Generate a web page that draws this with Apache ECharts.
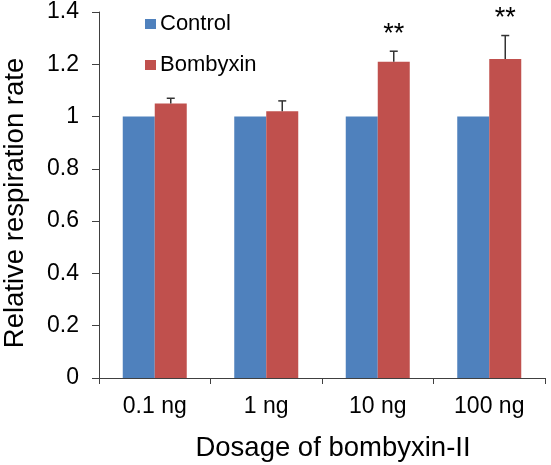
<!DOCTYPE html>
<html>
<head>
<meta charset="utf-8">
<script src="https://cdn.jsdelivr.net/npm/echarts@6/dist/echarts.min.js"></script>
<style>html,body{margin:0;padding:0;background:#fff}#c{width:551px;height:465px}</style>
</head>
<body>
<div id="c"></div>
<script>
var categories = ['0.1 ng', '1 ng', '10 ng', '100 ng'];
var controlValues = [1, 1, 1, 1];
var bombyxinValues = [1.05, 1.02, 1.21, 1.22];
var bombyxinErrors = [0.02, 0.04, 0.04, 0.09];
var significance = ['', '', '**', '**'];
var yTicks = [0, 0.2, 0.4, 0.6, 0.8, 1, 1.2, 1.4];

var FONT = '"Liberation Sans", Arial, sans-serif';
var BAR_W = 32;

var errData = categories.map(function (c, i) {
  return [i, bombyxinValues[i], bombyxinErrors[i], significance[i]];
});

var chart = echarts.init(document.getElementById('c'), null, {renderer: 'canvas'});
chart.setOption({
  animation: false,
  backgroundColor: '#fff',
  textStyle: {fontFamily: FONT},
  grid: {left: 99, right: 6, top: 12, bottom: 87, containLabel: false, outerBoundsMode: 'none'},
  legend: {
    data: ['Control', 'Bombyxin'],
    orient: 'vertical',
    left: 145, top: 13, padding: 0,
    itemWidth: 11, itemHeight: 10, itemGap: 19,
    icon: 'rect',
    textStyle: {fontSize: 22, color: '#000', fontFamily: FONT, padding: [0, 0, 0, -1]}
  },
  xAxis: {
    type: 'category',
    data: categories,
    name: 'Dosage of bombyxin-II',
    nameLocation: 'middle',
    nameGap: 56,
    nameTextStyle: {fontSize: 27.5, color: '#000', fontFamily: FONT, padding: [0, 0, 0, 22]},
    axisLine: {lineStyle: {color: '#404040', width: 1}},
    axisTick: {show: true, length: 6, lineStyle: {color: '#404040'}},
    axisLabel: {fontSize: 23, color: '#000', margin: 17, fontFamily: FONT}
  },
  yAxis: {
    type: 'value',
    min: 0, max: 1.4, interval: 0.2,
    name: 'Relative respiration rate',
    nameLocation: 'middle',
    nameGap: 70,
    nameTextStyle: {fontSize: 27.5, color: '#000', fontFamily: FONT, padding: [0, 16, 0, 0]},
    splitLine: {show: false},
    axisLine: {show: true, lineStyle: {color: '#404040', width: 1}},
    axisTick: {show: true, length: 7, lineStyle: {color: '#404040'}},
    axisLabel: {
      fontSize: 23, color: '#000', margin: 20, fontFamily: FONT,
      formatter: function (v) { return String(Math.round(v * 10) / 10); }
    }
  },
  series: [
    {
      name: 'Control', type: 'bar', data: controlValues,
      barWidth: BAR_W, barGap: '0%',
      itemStyle: {color: '#4F81BD'}
    },
    {
      name: 'Bombyxin', type: 'bar', data: bombyxinValues,
      barWidth: BAR_W, barGap: '0%',
      itemStyle: {color: '#C0504D'}
    },
    {
      name: 'err', type: 'custom', data: errData, z: 10,
      encode: {x: 0, y: 1},
      renderItem: function (params, api) {
        var idx = api.value(0), v = api.value(1), e = api.value(2);
        var sig = significance[idx];
        var base = api.coord([idx, v]);
        var top = api.coord([idx, v + e]);
        var x = base[0] + BAR_W / 2;
        var children = [
          {type: 'line', shape: {x1: x, y1: base[1], x2: x, y2: top[1]}, style: {stroke: '#333', lineWidth: 1.5}},
          {type: 'line', shape: {x1: x - 4, y1: top[1], x2: x + 4, y2: top[1]}, style: {stroke: '#333', lineWidth: 1.5}}
        ];
        if (sig) {
          children.push({
            type: 'text',
            style: {text: sig, x: x, y: top[1] - 17, align: 'center', verticalAlign: 'middle',
                    fontSize: 27, fill: '#000', fontFamily: FONT}
          });
        }
        return {type: 'group', children: children};
      }
    }
  ]
});
</script>
</body>
</html>
